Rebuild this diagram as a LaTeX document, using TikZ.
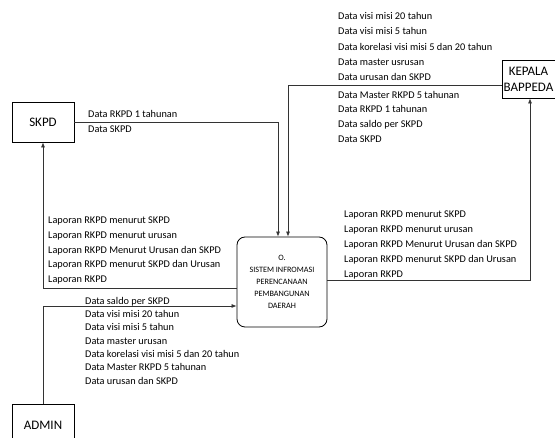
\documentclass[tikz,border=0pt]{standalone}
\usepackage{fontspec}
\setmainfont{Carlito}
\usetikzlibrary{arrows.meta}
\begin{document}
\begin{tikzpicture}[x=1pt,y=-1pt,
  ent/.style={draw,line width=0.8pt,minimum width=62pt,minimum height=40pt,inner sep=0pt,font=\fontsize{13}{16}\selectfont},
  proc/.style={draw,line width=0.8pt,rounded corners=8pt,minimum width=90pt,minimum height=90pt,inner sep=0pt,align=center,font=\fontsize{8.2}{12}\selectfont},
  flow/.style={line width=0.7pt,draw=black!80},
  arr/.style={flow,-{Latex[length=5pt,width=4pt]}},
  lbl/.style={anchor=north west,align=left,inner sep=0pt,font=\fontsize{10.3}{14.6}\selectfont}]
\useasboundingbox (0,0) rectangle (555,438);
\node[ent] (skpd) at (43,122) {SKPD};
\node[ent,minimum width=53pt,minimum height=38pt,align=center] (kep) at (528.5,79) {KEPALA\\BAPPEDA};
\node[ent,minimum height=42pt] (admin) at (43,425) {ADMIN};
\node[proc] (proc) at (282,282) {O.\\SISTEM INFROMASI\\PERENCANAAN\\PEMBANGUNAN\\DAERAH};
% connectors
\draw[arr] (skpd.east) -| ([xshift=-4pt]proc.north);
\draw[arr] ([yshift=-6pt]kep.west) -| ([xshift=6pt]proc.north);
\draw[arr] ([yshift=2pt]proc.east) -| ([xshift=1.5pt]kep.south);
\draw[arr] ([yshift=-6pt]proc.west) -| (skpd.south);
\draw[arr] (admin.north) |- ([yshift=-24pt]proc.west);
% labels
\node[lbl,font=\fontsize{10.3}{15}\selectfont] (l1) at (88,110) {Data RKPD 1 tahunan\\Data SKPD};
\node[lbl,font=\fontsize{10.3}{15.2}\selectfont] (l2) at (338,12.3) {Data visi misi 20 tahun\\Data visi misi 5 tahun\\Data korelasi visi misi 5 dan 20 tahun\\Data master usrusan\\Data urusan dan SKPD};
\node[lbl] (l3) at (338,91) {Data Master RKPD 5 tahunan\\Data RKPD 1 tahunan\\Data saldo per SKPD\\Data SKPD};
\node[lbl] (l4) at (48,217) {Laporan RKPD menurut SKPD\\Laporan RKPD menurut urusan\\Laporan RKPD Menurut Urusan dan SKPD\\Laporan RKPD menurut SKPD dan Urusan\\Laporan RKPD};
\node[lbl,font=\fontsize{10.3}{15}\selectfont] (l5) at (344,211) {Laporan RKPD menurut SKPD\\Laporan RKPD menurut urusan\\Laporan RKPD Menurut Urusan dan SKPD\\Laporan RKPD menurut SKPD dan Urusan\\Laporan RKPD};
\node[lbl,font=\fontsize{10.3}{13.3}\selectfont] (l6) at (85,297) {Data saldo per SKPD\\Data visi misi 20 tahun\\Data visi misi 5 tahun\\Data master urusan\\Data korelasi visi misi 5 dan 20 tahun\\Data Master RKPD 5 tahunan\\Data urusan dan SKPD};
\end{tikzpicture}
\end{document}
